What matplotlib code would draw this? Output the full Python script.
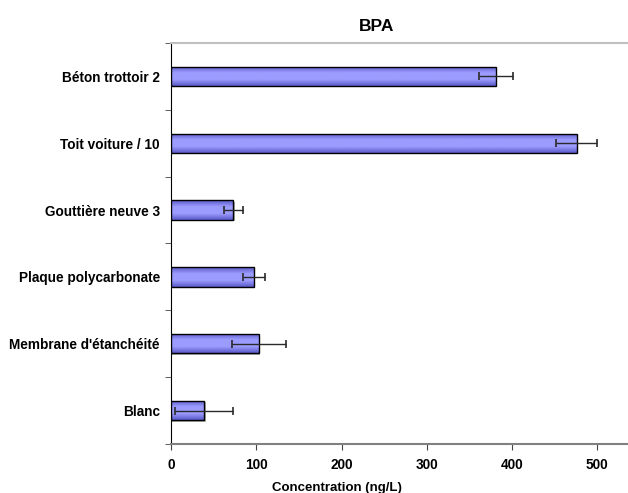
import numpy as np
import matplotlib.pyplot as plt
from matplotlib.colors import LinearSegmentedColormap

plt.rcParams['font.family'] = ['Liberation Sans', 'DejaVu Sans']

echantillons = ["Blanc", "Membrane d'étanchéité", "Plaque polycarbonate",
                "Gouttière neuve 3", "Toit voiture / 10", "Béton trottoir 2"]
concentration = [39, 103, 97, 73, 476, 381]
erreur = [34, 32, 13, 11, 24, 20]

fig = plt.figure(figsize=(6.28, 4.93), dpi=100)
ax = fig.add_axes([0.2723, 0.0994, 0.7277, 0.8134])

y = np.arange(len(echantillons))
h = 0.29

# ombre grise derriere les barres
ax.barh(y - 0.02, concentration, height=h, left=1.5, color='#b0b0b0', zorder=1)
barres = ax.barh(y, concentration, height=h, color='#9999ff', edgecolor='black',
                 linewidth=1.0, zorder=3)

# degrade vertical dans chaque barre
cmap = LinearSegmentedColormap.from_list('bpa', ['#5a5ac8', '#9c9cff', '#9c9cff', '#5a5ac8'])
grad = np.linspace(0, 1, 64).reshape(-1, 1)
for b in barres:
    x0, y0 = b.get_x(), b.get_y()
    im = ax.imshow(grad, cmap=cmap, aspect='auto', zorder=3.5,
                   extent=[x0, x0 + b.get_width(), y0, y0 + b.get_height()])
    im.set_clip_path(b)
for b in barres:
    b.set_facecolor('none')
    b.set_zorder(4)

ax.errorbar(concentration, y, xerr=erreur, fmt='none', ecolor='#2a2a2a',
            elinewidth=1.0, capsize=2.8, capthick=1.2, zorder=5)

ax.set_xlim(0, 536)
ax.set_ylim(-0.5, len(echantillons) - 0.5)
ax.set_xticks([0, 100, 200, 300, 400, 500])
ax.set_yticks(y)
ax.set_yticklabels(echantillons)
ax.set_yticks(np.arange(-0.5, len(echantillons), 1), minor=True)
ax.tick_params(axis='y', which='major', length=0, pad=8)
ax.tick_params(axis='y', which='minor', length=4, color='#444444')
ax.tick_params(axis='x', length=4, color='#444444', pad=6)
for lab in ax.get_xticklabels() + ax.get_yticklabels():
    lab.set_fontweight('bold')
    lab.set_fontsize(9.8)

ax.spines['right'].set_visible(False)
ax.spines['top'].set_color('#c0c0c0')
ax.spines['top'].set_linewidth(1.5)
ax.spines['bottom'].set_color('#808080')
ax.spines['bottom'].set_linewidth(1.5)
ax.spines['left'].set_color('black')

ax.set_xlabel('Concentration (ng/L)', fontsize=9.5, fontweight='bold')
ax.xaxis.set_label_coords(0.363, -0.095)
ax.set_title('BPA', fontsize=12.5, fontweight='bold', x=0.45, y=1.008)

fig.savefig('out.png', dpi=100)
